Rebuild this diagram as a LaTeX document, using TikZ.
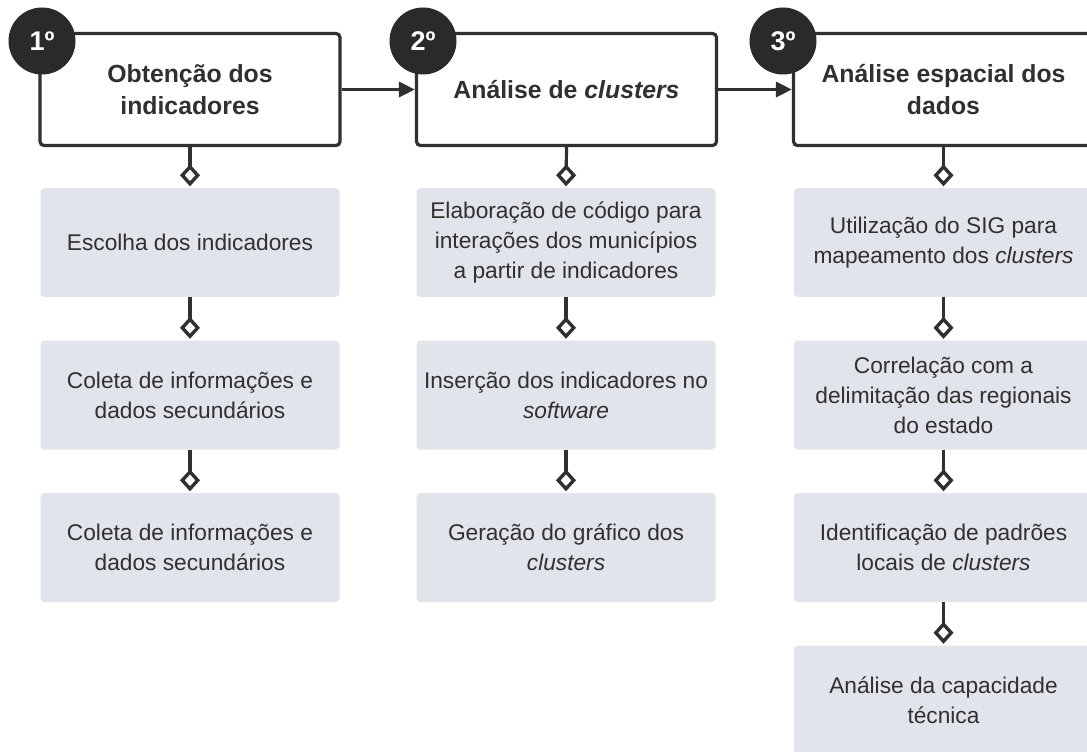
\documentclass[tikz,border=0pt]{standalone}
\usepackage{fontspec}
\setmainfont{Liberation Sans}
\usetikzlibrary{arrows.meta}
\definecolor{ink}{HTML}{303030}
\definecolor{boxgray}{HTML}{E1E4EA}
\definecolor{badgefill}{HTML}{2A2A2A}
\begin{document}
\begin{tikzpicture}[x=1pt,y=-1pt,
  header/.style={draw=ink, line width=3.2pt, rounded corners=4pt, fill=white,
    minimum width=300pt, minimum height=112pt, align=center, inner sep=0pt,
    font=\fontsize{24.8}{32}\selectfont\bfseries, text=ink},
  item/.style={fill=boxgray, rounded corners=4pt, minimum width=299pt,
    minimum height=109pt, align=center, inner sep=0pt,
    font=\fontsize{22.7}{30}\selectfont, text=ink},
  badge/.style={circle, fill=badgefill, minimum size=67pt, inner sep=0pt,
    text=white, font=\fontsize{27}{30}\selectfont\bfseries},
  conn/.style={draw=ink, line width=3.2pt,
    -{Diamond[open, fill=white, length=22pt, width=20pt, line width=3.4pt]}, shorten >=1.5pt},
  flow/.style={draw=ink, line width=3.2pt, -{Triangle[length=16pt, width=15pt]}}
]
\useasboundingbox (0,0) rectangle (1087,752);
\clip (0,0) rectangle (1087,752);
\fill[white] (0,0) rectangle (1087,752);

% headers
\node[header] (h1) at (190,89.5) {Obtenção dos\\indicadores};
\node[header] (h2) at (566.5,89.5) {Análise de \textit{clusters}};
\node[header] (h3) at (943.5,89.5) {Análise espacial dos\\dados};

% badges
\node[badge] (n1) at (42,41) {1º};
\node[badge] (n2) at (423,41) {2º};
\node[badge] (n3) at (783,41) {3º};

% column 1
\node[item] (a1) at (190,242.5) {Escolha dos indicadores};
\node[item] (a2) at (190,395) {Coleta de informações e\\dados secundários};
\node[item] (a3) at (190,547.5) {Coleta de informações e\\dados secundários};

% column 2
\node[item] (b1) at (566,242.5) {Elaboração de código para\\interações dos municípios\\a partir de indicadores};
\node[item] (b2) at (566,395) {Inserção dos indicadores no\\\textit{software}};
\node[item] (b3) at (566,547.5) {Geração do gráfico dos\\\textit{clusters}};

% column 3
\node[item] (c1) at (943.5,242.5) {Utilização do SIG para\\mapeamento dos \textit{clusters}};
\node[item] (c2) at (943.5,395) {Correlação com a\\delimitação das regionais\\do estado};
\node[item] (c3) at (943.5,547.5) {Identificação de padrões\\locais de \textit{clusters}};
\node[item] (c4) at (943.5,700) {Análise da capacidade\\técnica};

% flow between headers
\draw[flow] (h1.east) -- (h2.west);
\draw[flow] (h2.east) -- (h3.west);

% connectors
\draw[conn] (h1.south) -- (a1.north);
\draw[conn] (a1.south) -- (a2.north);
\draw[conn] (a2.south) -- (a3.north);
\draw[conn] (h2.south) -- (b1.north);
\draw[conn] (b1.south) -- (b2.north);
\draw[conn] (b2.south) -- (b3.north);
\draw[conn] (h3.south) -- (c1.north);
\draw[conn] (c1.south) -- (c2.north);
\draw[conn] (c2.south) -- (c3.north);
\draw[conn] (c3.south) -- (c4.north);
\end{tikzpicture}
\end{document}
